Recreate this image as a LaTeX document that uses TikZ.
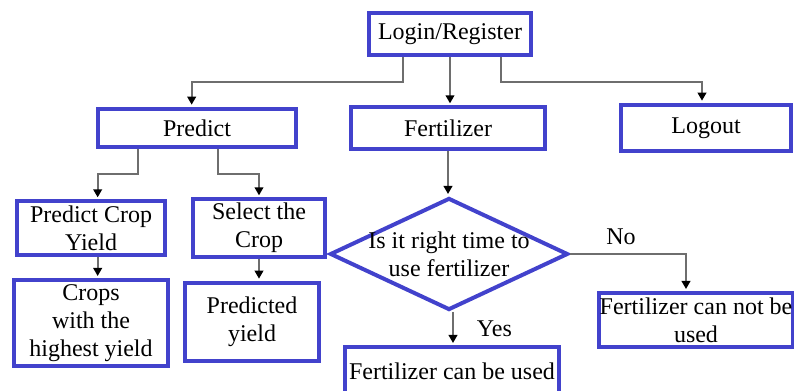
\documentclass[tikz,border=0pt]{standalone}
\usepackage{fontspec}
\setmainfont{Liberation Serif}
\usetikzlibrary{arrows.meta,shapes.geometric}
\definecolor{boxblue}{RGB}{66,66,204}
\definecolor{linegray}{RGB}{110,110,110}

\begin{document}
\begin{tikzpicture}[x=0.75pt,y=-0.75pt,
	blk/.style={draw=boxblue,line width=3pt,align=center,inner sep=0pt,font=\fontsize{18}{21}\selectfont},
	dec/.style={diamond,draw=boxblue,line width=3pt,inner sep=0pt},
	lbl/.style={font=\fontsize{18}{21}\selectfont},
	conn/.style={draw=linegray,line width=1.3pt,-{Triangle[length=6pt,width=6.5pt,color=black]},shorten >=1.5pt}]
		\useasboundingbox (0,0) rectangle (794,391);
		%
		\node[blk,minimum width=122pt,minimum height=32pt] (login) at (450,34) {Login/Register};
		\node[blk,minimum width=149pt,minimum height=29pt] (predict) at (197,128) {Predict};
		\node[blk,minimum width=145pt,minimum height=31pt] (fert) at (448,128) {Fertilizer};
		\node[blk,minimum width=127pt,minimum height=35pt] (logout) at (706,128) {Logout};
		\node[blk,minimum width=111pt,minimum height=40pt] (pcy) at (91,228) {Predict Crop\\Yield};
		\node[blk,minimum width=99pt,minimum height=43pt] (sel) at (259,228) {Select the\\Crop};
		\node[blk,minimum width=115.5pt,minimum height=64.5pt] (crops) at (91,323) {Crops\\with the\\highest yield};
		\node[blk,minimum width=100.5pt,minimum height=59pt] (pred) at (252,322) {Predicted\\yield};
		\node[dec,minimum width=178.5pt,minimum height=84pt,
			label={[lbl,align=center]center:Is it right time to\\use fertilizer}] (dia) at (449,254) {};
		\node[blk,minimum width=160pt,minimum height=36pt] (canuse) at (452,371) {Fertilizer can be used};
		\node[blk,minimum width=145pt,minimum height=40.5pt] (cannot) at (696,320) {Fertilizer can not be\\used};
		%
		\draw[conn] ([xshift=-35pt]login.south) -- ++(0,25) -| ([xshift=-4pt]predict.north);
		\draw[conn] (login.south) -- (login.south |- fert.north);
		\draw[conn] ([xshift=38pt]login.south) -- ++(0,25) -| ([xshift=-3pt]logout.north);
		\draw[conn] ([xshift=-44pt]predict.south) -- ++(0,25) -| ([xshift=5pt]pcy.north);
		\draw[conn] ([xshift=16pt]predict.south) -- ++(0,25) -| (sel.north);
		\draw[conn] ([xshift=5pt]pcy.south) -- ([xshift=5pt]crops.north);
		\draw[conn] (sel.south) -- (sel.south |- pred.north);
		\draw[conn] (fert.south) -- (fert.south |- dia.north);
		\draw[conn] (dia.east) -| node[pos=0.22,above=3pt,lbl] {No} ([xshift=-7.5pt]cannot.north);
		\draw[conn] ([xshift=3pt]dia.south) -- node[midway,right=14pt,lbl] {Yes} ([xshift=3pt]dia.south |- canuse.north);
\end{tikzpicture}
\end{document}
